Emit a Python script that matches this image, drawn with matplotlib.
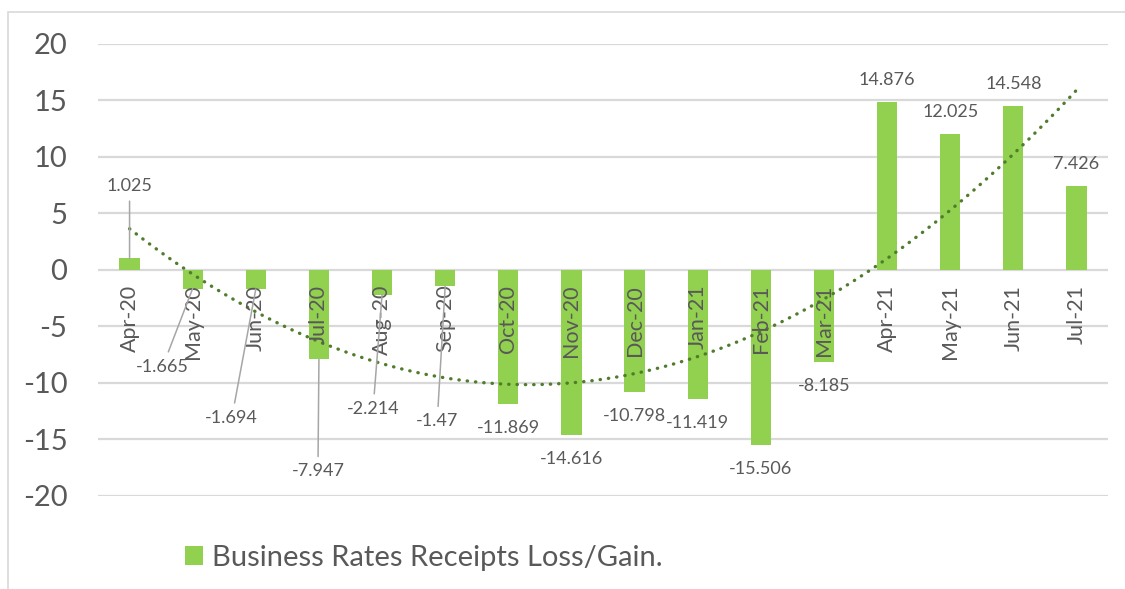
import numpy as np
import matplotlib
matplotlib.use("Agg")
import matplotlib.pyplot as plt
from matplotlib.patches import Rectangle

months = ["Apr-20", "May-20", "Jun-20", "Jul-20", "Aug-20", "Sep-20", "Oct-20", "Nov-20",
          "Dec-20", "Jan-21", "Feb-21", "Mar-21", "Apr-21", "May-21", "Jun-21", "Jul-21"]
values = [1.025, -1.665, -1.694, -7.947, -2.214, -1.47, -11.869, -14.616,
          -10.798, -11.419, -15.506, -8.185, 14.876, 12.025, 14.548, 7.426]
label_text = ["1.025", "-1.665", "-1.694", "-7.947", "-2.214", "-1.47", "-11.869", "-14.616",
              "-10.798", "-11.419", "-15.506", "-8.185", "14.876", "12.025", "14.548", "7.426"]
yticks = [20, 15, 10, 5, 0, -5, -10, -15, -20]
legend_label = "Business Rates Receipts Loss/Gain."

# label offsets in pixels from the bar end, and whether a leader line is drawn
label_off = [(0, 72), (-30, -78), (-24, -129), (-1, -112), (-9, -114), (-8, -135),
             (0, -24), (0, -24), (0, -24), (0, -24), (0, -24), (0, -24),
             (0, 22), (0, 22), (0, 22), (0, 22)]
leader = [True, True, True, True, True, True] + [False] * 10

grey = "#595959"
plt.rcParams['font.family'] = ['Lato', 'DejaVu Sans']
plt.rcParams['axes.unicode_minus'] = False

fig = plt.figure(figsize=(11.25, 5.89), dpi=100)
ax = fig.add_axes([98 / 1125, 1 - 495.5 / 589, 1010 / 1125, 451.5 / 589])

x = np.arange(len(months))
bars = ax.bar(x, values, width=0.32, color="#92d050", zorder=3, label=legend_label)

# polynomial (order 2) trendline, like Excel
coef = np.polyfit(x + 1, values, 2)
xs = np.linspace(0, len(months) - 1, 400)
ax.plot(xs, np.polyval(coef, xs + 1), color="#4f7d2c", lw=2.4,
        linestyle=(0, (0.1, 2.4)), dash_capstyle="round", zorder=4)

ax.set_xlim(-0.5, len(months) - 0.5)
ax.set_ylim(-20, 20)
ax.set_yticks(yticks)
ax.set_xticks([])
ax.tick_params(axis="y", length=0, pad=22, labelsize=21, labelcolor=grey)
ax.yaxis.grid(True, color="#d9d9d9", lw=1.6, zorder=0)
for s in ax.spines.values():
    s.set_visible(False)

# category labels sit just under the zero line
for i, m in enumerate(months):
    ax.annotate(m, xy=(i, 0), xytext=(0, -15), textcoords="offset pixels",
                rotation=90, ha="center", va="top", fontsize=15.5, color=grey, zorder=5)

# data labels
for i, v in enumerate(values):
    kw = {}
    if leader[i]:
        kw["arrowprops"] = dict(arrowstyle="-", color="#a6a6a6", lw=1.1,
                                shrinkA=3, shrinkB=0)
    ax.annotate(label_text[i], xy=(i, v), xytext=label_off[i], textcoords="offset pixels",
                ha="center", va="center", fontsize=13, color=grey, zorder=6, **kw)

# chart area border (only top and left edges fall inside the picture)
fig.patches.append(Rectangle((8 / 1125, -0.2), 1.3, 1.2 - 12 / 589,
                             transform=fig.transFigure, fill=False,
                             edgecolor="#d9d9d9", lw=1.2))

fig.legend(handles=[bars], loc="center left", bbox_to_anchor=(185 / 1125, 1 - 558 / 589),
           frameon=False, fontsize=21, handlelength=0.62, handleheight=0.62,
           handletextpad=0.3, borderpad=0, borderaxespad=0, labelcolor=grey)

fig.savefig("out.png", dpi=100)
